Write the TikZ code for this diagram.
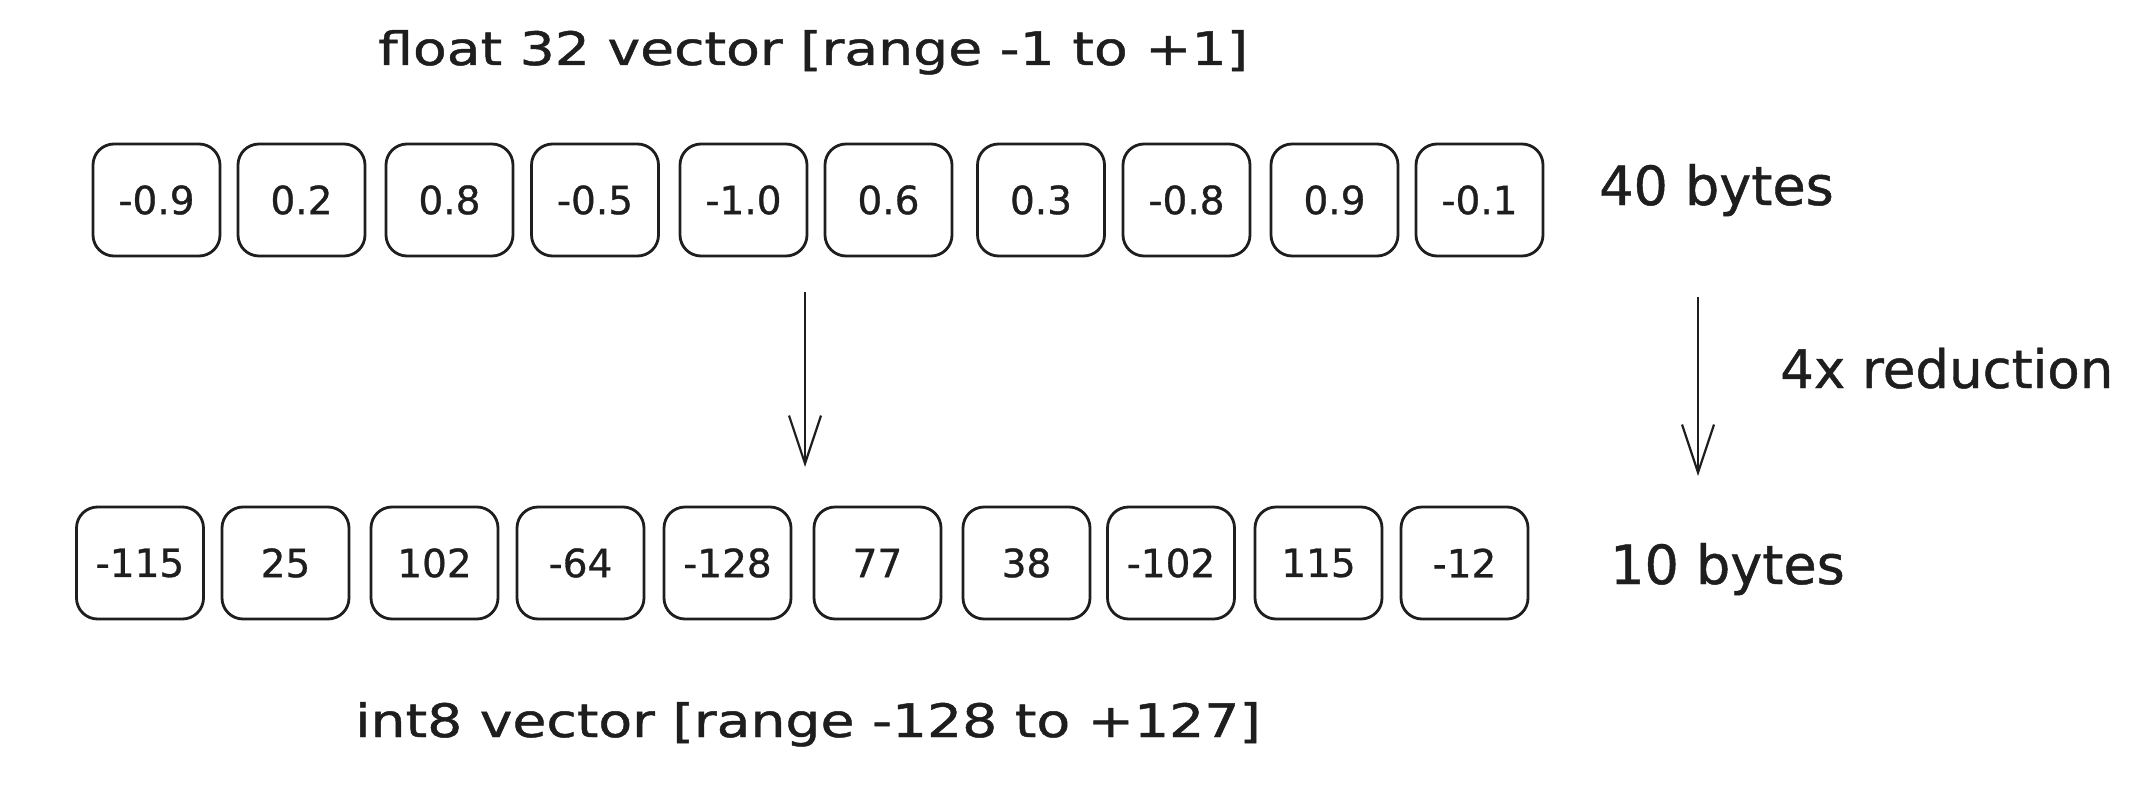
\documentclass[tikz,border=0pt]{standalone}
\usepackage{fontspec}
\setmainfont[FakeBold=0.8]{DejaVu Sans}
\newfontfamily\handwide[FakeStretch=1.2,FakeBold=1.0]{DejaVu Sans}
\usetikzlibrary{arrows.meta}
\definecolor{ink}{HTML}{1E1E1E}
\begin{document}
\begin{tikzpicture}[x=1pt,y=-1pt,
  cell/.style={draw=ink, line width=2.8pt, rounded corners=21pt,
    minimum width=127pt, minimum height=112pt, inner sep=0pt,
    font=\fontsize{39}{39}\selectfont, text=ink},
  title/.style={anchor=base west, inner sep=0pt, text=ink,
    font=\handwide\fontsize{46}{46}\selectfont},
  side/.style={anchor=base west, inner sep=0pt, text=ink,
    font=\fontsize{54}{54}\selectfont},
  conn/.style={draw=ink, line width=2.2pt,
    -{Straight Barb[length=48pt,width=32pt,line width=2.2pt]}}]
\fill[white] (0,0) rectangle (2139,808);
\useasboundingbox (0,0) rectangle (2139,808);

% titles
\node[title] (ttop) at (378,65) {float 32 vector [range -1 to +1]};
\node[title] (tbot) at (355,737) {int8 vector [range -128 to +127]};

% top row (float32)
\node[cell] (t1)  at (156.5,200) {-0.9};
\node[cell] (t2)  at (301.5,200) {0.2};
\node[cell] (t3)  at (449.5,200) {0.8};
\node[cell] (t4)  at (595,200)   {-0.5};
\node[cell] (t5)  at (743.5,200) {-1.0};
\node[cell] (t6)  at (888.5,200) {0.6};
\node[cell] (t7)  at (1041,200)  {0.3};
\node[cell] (t8)  at (1186.5,200){-0.8};
\node[cell] (t9)  at (1334.5,200){0.9};
\node[cell] (t10) at (1479.5,200){-0.1};

% bottom row (int8)
\node[cell] (b1)  at (140,563)   {-115};
\node[cell] (b2)  at (285.5,563) {25};
\node[cell] (b3)  at (434.5,563) {102};
\node[cell] (b4)  at (580.5,563) {-64};
\node[cell] (b5)  at (727.5,563) {-128};
\node[cell] (b6)  at (877.5,563) {77};
\node[cell] (b7)  at (1026.5,563){38};
\node[cell] (b8)  at (1171,563)  {-102};
\node[cell] (b9)  at (1318.5,563){115};
\node[cell] (b10) at (1464.5,563){-12};

% side labels
\node[side] (s40) at (1599,205) {40 bytes};
\node[side] (s10) at (1610,584) {10 bytes};
\node[side, font=\fontsize{53}{53}\selectfont] (red) at (1780,388) {4x reduction};

% arrows
\coordinate (a1s) at (805,292);
\coordinate (a1e) at (805,467);
\coordinate (a2s) at (1698,297);
\coordinate (a2e) at (1698,476);
\draw[conn] (a1s) -- (a1e);
\draw[conn] (a2s) -- (a2e);
\end{tikzpicture}
\end{document}
